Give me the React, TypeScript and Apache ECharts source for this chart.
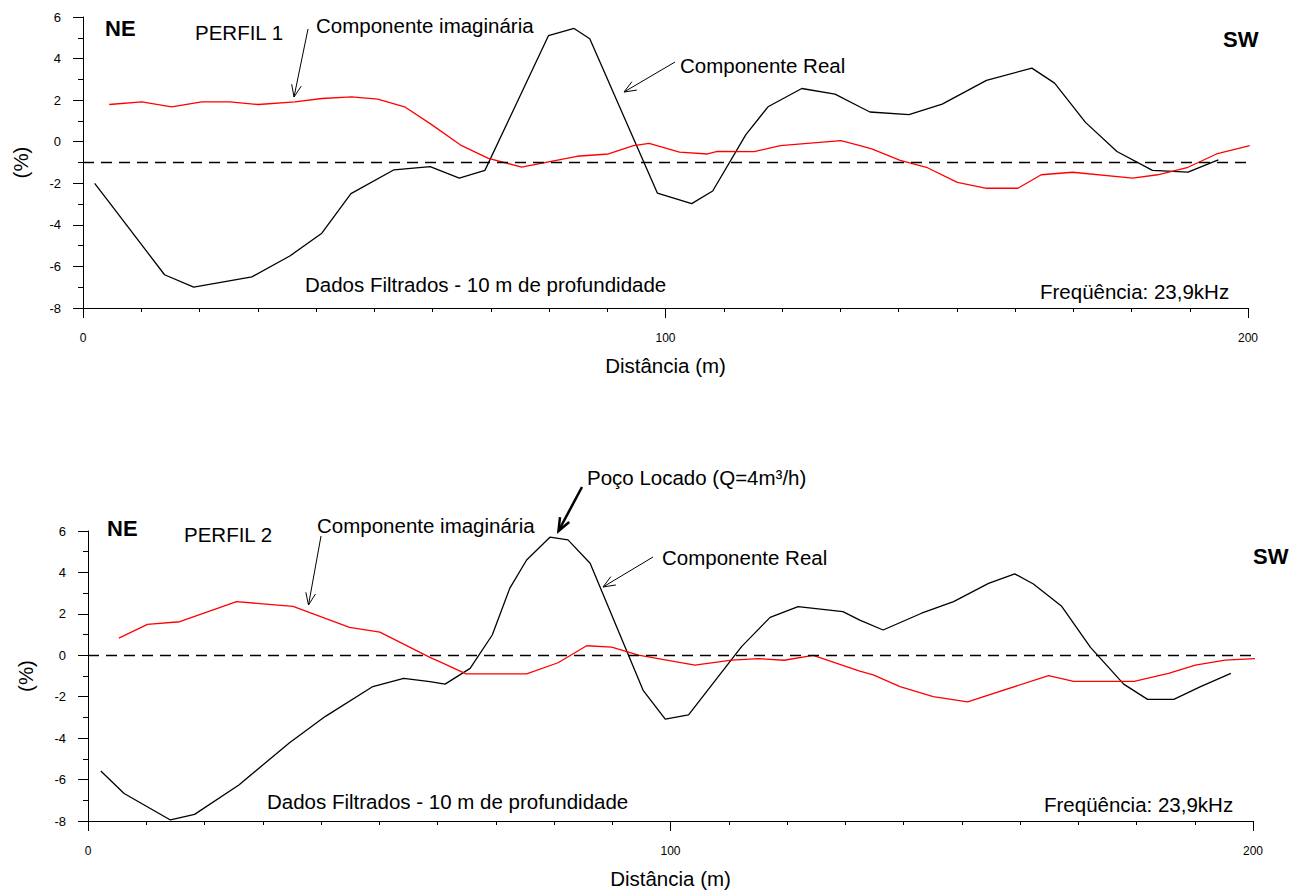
import React, { useEffect, useRef } from "react";
import * as echarts from "echarts";

// ---- Data ----
const real1X = [2, 5, 14, 19, 29, 35.5, 41, 46, 53.4, 59.6, 64.6, 69, 79.9, 84.3, 87, 98.6, 104.5, 108.1, 113.8, 117.6, 123.4, 129.1, 133.4, 135.1, 141.8, 147.5, 155.1, 162.9, 166.8, 172.1, 177.5, 183.6, 189.7, 194.9];
const real1Y = [-2, -3.1, -6.4, -7.0, -6.5, -5.5, -4.4, -2.5, -1.35, -1.2, -1.75, -1.38, 5.1, 5.45, 4.95, -2.47, -2.98, -2.37, 0.34, 1.68, 2.56, 2.29, 1.67, 1.43, 1.3, 1.81, 2.95, 3.54, 2.82, 0.93, -0.47, -1.38, -1.46, -0.87];

const imag1X = [4.5, 10.1, 15.2, 20.4, 25.2, 30.1, 36.4, 41, 46.1, 50.6, 55.2, 59.6, 65, 69.6, 75.3, 84.8, 90.2, 94.5, 97.2, 102.4, 107.2, 108.9, 115.2, 119.7, 130.1, 133.4, 135.4, 140.3, 144.8, 150.1, 155.1, 160.5, 164.5, 169.9, 180.2, 184.5, 189.7, 194.6, 200.3];
const imag1Y = [1.79, 1.92, 1.68, 1.92, 1.92, 1.79, 1.92, 2.08, 2.16, 2.05, 1.68, 0.87, -0.19, -0.8, -1.22, -0.7, -0.59, -0.19, -0.08, -0.5, -0.59, -0.46, -0.48, -0.19, 0.05, -0.19, -0.34, -0.9, -1.23, -1.96, -2.24, -2.24, -1.59, -1.47, -1.75, -1.59, -1.23, -0.59, -0.19];

const real2X = [2.2, 6.2, 14.15, 18.3, 25.9, 34.6, 40.7, 48.9, 54.2, 58.7, 61.3, 65.6, 69.4, 72.4, 75.3, 79.3, 82.4, 86.2, 95.3, 99.1, 103.1, 112.2, 117.1, 121.9, 129.6, 132.5, 136.5, 143.1, 148.6, 154.6, 159.1, 162.3, 167.1, 172.1, 177.8, 181.9, 186.4, 191, 196.2];
const real2Y = [-5.59, -6.67, -7.95, -7.68, -6.26, -4.22, -2.96, -1.51, -1.11, -1.27, -1.39, -0.63, 0.98, 3.23, 4.6, 5.7, 5.57, 4.44, -1.69, -3.08, -2.88, 0.42, 1.83, 2.35, 2.11, 1.7, 1.22, 2.03, 2.59, 3.47, 3.93, 3.44, 2.38, 0.38, -1.39, -2.13, -2.13, -1.51, -0.87];

const imag2X = [5.3, 10.2, 15.75, 25.5, 35.2, 44.9, 50.1, 58.7, 61, 64.9, 75.3, 80.7, 85.6, 89.9, 94.5, 104.2, 110.5, 115.1, 119.5, 124.5, 132.5, 134.8, 139.4, 145.1, 151, 164.9, 169.2, 179.6, 185.5, 190.1, 195.2, 200.8];
const imag2Y = [0.83, 1.49, 1.62, 2.59, 2.36, 1.35, 1.12, -0.1, -0.39, -0.9, -0.9, -0.36, 0.46, 0.39, 0.01, -0.48, -0.23, -0.16, -0.24, 0.0, -0.76, -0.95, -1.51, -2.0, -2.25, -0.98, -1.26, -1.26, -0.87, -0.47, -0.23, -0.15];

const baseline1 = -1;
const baseline2 = 0;

const xTitle = "Distância (m)";
const yTitle = "(%)";

const FONT = '"Liberation Sans", Arial, sans-serif';
const T = 20.5;

const zip = (xs: number[], ys: number[]) => xs.map((x, i) => [x, ys[i]]);

function text(str: string, x: number, y: number, size: number, bold = false) {
  return {
    type: "text",
    x,
    y,
    silent: true,
    style: {
      text: str,
      fill: "#000",
      font: `${bold ? "bold " : ""}${size}px ${FONT}`,
      align: "left",
      verticalAlign: "middle",
    },
  };
}

function arrow(x1: number, y1: number, x2: number, y2: number, width = 1, head = 13) {
  const ang = Math.atan2(y2 - y1, x2 - x1);
  const spread = (22 * Math.PI) / 180;
  const w1 = [x2 - head * Math.cos(ang - spread), y2 - head * Math.sin(ang - spread)];
  const w2 = [x2 - head * Math.cos(ang + spread), y2 - head * Math.sin(ang + spread)];
  return {
    type: "group",
    silent: true,
    children: [
      { type: "line", shape: { x1, y1, x2, y2 }, style: { stroke: "#000", lineWidth: width } },
      { type: "polyline", shape: { points: [w1, [x2, y2], w2] }, style: { stroke: "#000", lineWidth: width, fill: null } },
    ],
  };
}

function xAxis(gridIndex: number) {
  return {
    type: "value",
    gridIndex,
    min: 0,
    max: 200,
    interval: 100,
    axisLine: { show: true, onZero: false, lineStyle: { color: "#000", width: 1 } },
    axisTick: { show: true, length: 10, lineStyle: { color: "#000" } },
    minorTick: { show: true, splitNumber: 10, length: 4, lineStyle: { color: "#000" } },
    splitLine: { show: false },
    minorSplitLine: { show: false },
    axisLabel: { color: "#000", fontSize: 12, margin: 24, fontFamily: FONT },
    name: xTitle,
    nameLocation: "middle",
    nameGap: 57,
    nameTextStyle: { color: "#000", fontSize: T, fontFamily: FONT, verticalAlign: "middle" },
  };
}

function yAxis(gridIndex: number) {
  return {
    type: "value",
    gridIndex,
    min: -8,
    max: 6,
    interval: 2,
    axisLine: { show: true, onZero: false, lineStyle: { color: "#000", width: 1 } },
    axisTick: { show: true, length: 10, lineStyle: { color: "#000" } },
    minorTick: { show: true, splitNumber: 2, length: 5, lineStyle: { color: "#000" } },
    splitLine: { show: false },
    minorSplitLine: { show: false },
    axisLabel: { color: "#000", fontSize: 13, margin: 22, fontFamily: FONT },
    name: yTitle,
    nameLocation: "middle",
    nameGap: 63,
    nameRotate: 90,
    nameTextStyle: { color: "#000", fontSize: T, fontFamily: FONT, verticalAlign: "middle" },
  };
}

function lineSeries(name: string, idx: number, data: number[][], color: string, baseline?: number) {
  const s: any = {
    name,
    type: "line",
    xAxisIndex: idx,
    yAxisIndex: idx,
    data,
    showSymbol: false,
    symbol: "none",
    clip: false,
    lineStyle: { color, width: 1.3 },
    itemStyle: { color },
    silent: true,
  };
  if (baseline !== undefined) {
    s.markLine = {
      silent: true,
      symbol: ["none", "none"],
      label: { show: false },
      lineStyle: { color: "#000", width: 1.3, type: [11, 7] },
      data: [{ yAxis: baseline }],
    };
  }
  return s;
}

export default function App() {
  const ref = useRef<HTMLDivElement>(null);

  useEffect(() => {
    if (!ref.current) return;
    const chart = echarts.init(ref.current, undefined, { renderer: "svg" });
    chart.setOption({
      animation: false,
      backgroundColor: "#fff",
      textStyle: { fontFamily: FONT },
      grid: [
        { left: 83, top: 17, width: 1165, height: 291 },
        { left: 88, top: 531, width: 1165, height: 290 },
      ],
      xAxis: [xAxis(0), xAxis(1)],
      yAxis: [yAxis(0), yAxis(1)],
      series: [
        lineSeries("Componente Real (Perfil 1)", 0, zip(real1X, real1Y), "#000", baseline1),
        lineSeries("Componente imaginária (Perfil 1)", 0, zip(imag1X, imag1Y), "#ff0000"),
        lineSeries("Componente Real (Perfil 2)", 1, zip(real2X, real2Y), "#000", baseline2),
        lineSeries("Componente imaginária (Perfil 2)", 1, zip(imag2X, imag2Y), "#ff0000"),
      ],
      graphic: [
        // Perfil 1
        text("NE", 105, 28, 22, true),
        text("PERFIL 1", 195, 32, T),
        text("Componente imaginária", 316, 25, T),
        arrow(308, 29, 294, 97),
        text("Componente Real", 680, 65, T),
        arrow(675, 62, 624, 92),
        text("SW", 1223, 39, 22, true),
        text("Dados Filtrados - 10 m de profundidade", 305, 284, T),
        text("Freqüência: 23,9kHz", 1040, 291, T),
        // Perfil 2
        text("NE", 107, 528, 22, true),
        text("PERFIL 2", 184, 534, T),
        text("Componente imaginária", 317, 525, T),
        arrow(321, 536, 308.5, 605),
        text("Poço Locado (Q=4m³/h)", 587, 477, T),
        arrow(582, 487, 558.5, 531, 2.5, 14),
        text("Componente Real", 662, 557, T),
        arrow(653, 557, 603, 587),
        text("SW", 1253, 556, 22, true),
        text("Dados Filtrados - 10 m de profundidade", 267, 801, T),
        text("Freqüência: 23,9kHz", 1044, 804, T),
      ],
    });
    return () => chart.dispose();
  }, []);

  return (
    <div
      ref={ref}
      style={{ position: "absolute", left: 0, top: 0, width: 1295, height: 890, background: "#fff" }}
    />
  );
}
